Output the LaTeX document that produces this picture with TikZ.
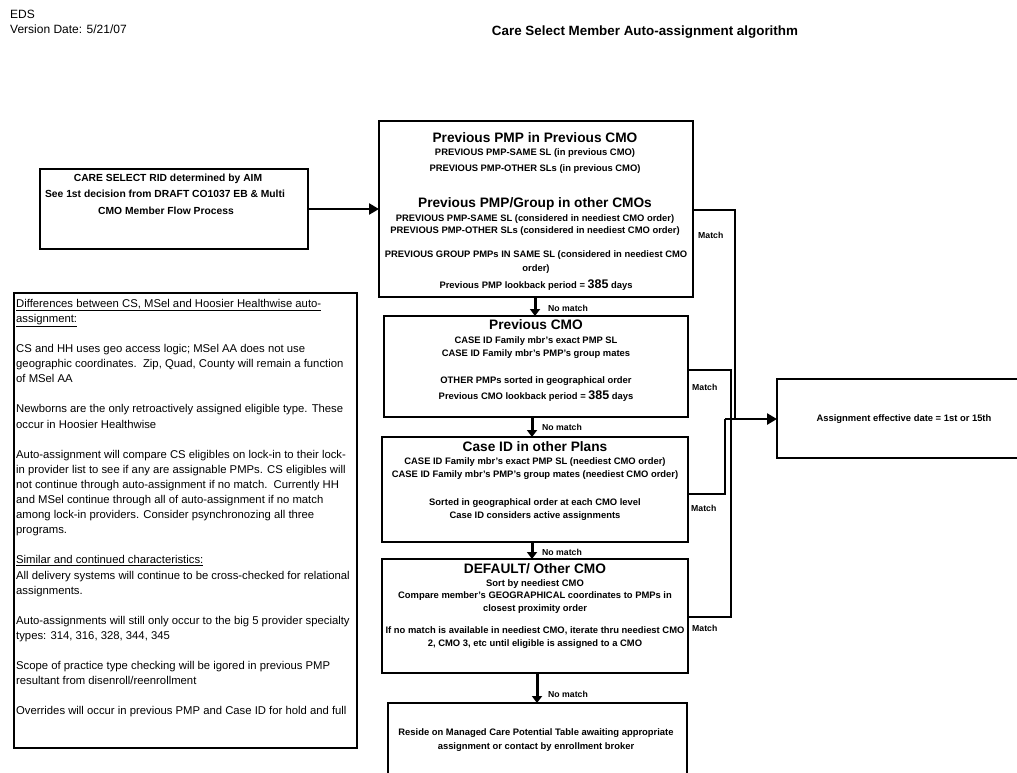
\documentclass[tikz,border=0pt]{standalone}
\usepackage{fontspec}
\setmainfont{Liberation Sans}
\usetikzlibrary{arrows.meta}
\newcommand\fhd{\fontsize{13.7}{15}\selectfont\bfseries}
\newcommand\fsb{\fontsize{9.4}{11}\selectfont\bfseries}
\newcommand\fcs{\fontsize{10.3}{12}\selectfont\bfseries}
\newcommand\flb{\fontsize{8.7}{10}\selectfont\bfseries}
\newcommand\flt{\fontsize{11.3}{15.1}\selectfont}
\newcommand\fbig{\fontsize{12.5}{14}\selectfont\bfseries}
\newcommand\fhdr{\fontsize{12}{14}\selectfont}
\newcommand\fttl{\fontsize{13.4}{15}\selectfont\bfseries}
\begin{document}
\begin{tikzpicture}[x=1pt,y=-1pt,
  box/.style={draw, line width=2.2pt, anchor=north west, inner sep=0pt, outer sep=0pt},
  txt/.style={inner sep=0pt, anchor=base},
  lbl/.style={inner sep=0pt, anchor=west, font=\flb},
  varr/.style={line width=3pt, -{Triangle[length=7pt,width=10pt]}},
  conn/.style={line width=2pt},
  harr/.style={line width=2.6pt, -{Triangle[length=10pt,width=11pt]}},
]
\fill[white] (0,0) rectangle (1017,772);
\clip (0,0) rectangle (1017,772);

% header
\node[txt, anchor=base west] (eds) at (10,18) {\fhdr EDS};
\node[txt, anchor=base west] (ver) at (10,33) {\fhdr Version Date: 5/21/07};
\node[txt] (title) at (645,35) {\fttl Care Select Member Auto-assignment algorithm};

% boxes
\node[box, minimum width=268pt, minimum height=80pt] (csbox) at (40,169) {};
\node[box, minimum width=314pt, minimum height=176pt] (topbox) at (379,121) {};
\node[box, minimum width=304pt, minimum height=101pt] (prevbox) at (384,316) {};
\node[box, minimum width=306pt, minimum height=105pt] (casebox) at (382,437) {};
\node[box, minimum width=306pt, minimum height=114pt] (defbox) at (382,559) {};
\node[box, minimum width=299pt, minimum height=90pt] (resbox) at (388,703) {};
\node[box, line width=2pt, minimum width=343pt, minimum height=455pt] (leftbox) at (14,293) {};
\node[box, line width=2pt, minimum width=260pt, minimum height=79pt] (assign) at (777,379) {};

% CARE SELECT text
\node[txt] (cs1) at (168,181) {\fcs CARE SELECT RID determined by AIM};
\node[txt] (cs2) at (165,197) {\fcs See 1st decision from DRAFT CO1037 EB \& Multi};
\node[txt] (cs3) at (166,214) {\fcs CMO Member Flow Process};

% top box text
\node[txt] (t1) at (535,142.5) {\fhd Previous PMP in Previous CMO};
\node[txt] (t2) at (535,155) {\fsb PREVIOUS PMP-SAME SL (in previous CMO)};
\node[txt] (t3) at (535,171) {\fsb PREVIOUS PMP-OTHER SLs (in previous CMO)};
\node[txt] (t4) at (535,207.5) {\fhd Previous PMP/Group in other CMOs};
\node[txt] (t5) at (535,221) {\fsb PREVIOUS PMP-SAME SL (considered in neediest CMO order)};
\node[txt] (t6) at (535,233) {\fsb PREVIOUS PMP-OTHER SLs (considered in neediest CMO order)};
\node[txt] (t7) at (536,257) {\fsb PREVIOUS GROUP PMPs IN SAME SL (considered in neediest CMO};
\node[txt] (t8) at (536,271) {\fsb order)};
\node[txt] (t9) at (536,288) {\fsb Previous PMP lookback period = {\fbig 385} days};

% previous CMO text
\node[txt] (p1) at (536,329.5) {\fhd Previous CMO};
\node[txt] (p2) at (536,343) {\fsb CASE ID Family mbr's exact PMP SL};
\node[txt] (p3) at (536,356) {\fsb CASE ID Family mbr's PMP's group mates};
\node[txt] (p4) at (536,383) {\fsb OTHER PMPs sorted in geographical order};
\node[txt] (p5) at (536,399) {\fsb Previous CMO lookback period = {\fbig 385} days};

% case ID text
\node[txt] (c1) at (535,451.5) {\fhd Case ID in other Plans};
\node[txt] (c2) at (535,464) {\fsb CASE ID Family mbr's exact PMP SL (neediest CMO order)};
\node[txt] (c3) at (535,477) {\fsb CASE ID Family mbr's PMP's group mates (neediest CMO order)};
\node[txt] (c4) at (535,505) {\fsb Sorted in geographical order at each CMO level};
\node[txt] (c5) at (535,518) {\fsb Case ID considers active assignments};

% default text
\node[txt] (d1) at (535,573.5) {\fhd DEFAULT/ Other CMO};
\node[txt] (d2) at (535,586) {\fsb Sort by neediest CMO};
\node[txt] (d3) at (535,598) {\fsb Compare member's GEOGRAPHICAL coordinates to PMPs in};
\node[txt] (d4) at (535,611) {\fsb closest proximity order};
\node[txt] (d5) at (535,633) {\fsb If no match is available in neediest CMO, iterate thru neediest CMO};
\node[txt] (d6) at (535,646) {\fsb 2, CMO 3, etc until eligible is assigned to a CMO};

% reside text
\node[txt] (r1) at (536,735) {\fsb Reside on Managed Care Potential Table awaiting appropriate};
\node[txt] (r2) at (536,749) {\fsb assignment or contact by enrollment broker};

% assignment text
\node[txt] (a1) at (904,421) {\fsb Assignment effective date = 1st or 15th};

% left box text
\node[inner sep=0pt, anchor=north west, align=left, font=\flt] (lefttext) at (16,298.8) {%
\underline{Differences between CS, MSel and Hoosier Healthwise auto-}\\
\underline{assignment:}\\[15.1pt]
CS and HH uses geo access logic; MSel AA does not use\\
geographic coordinates.\ \ Zip, Quad, County will remain a function\\
of MSel AA\\[15.1pt]
Newborns are the only retroactively assigned eligible type. These\\
occur in Hoosier Healthwise\\[15.1pt]
Auto-assignment will compare CS eligibles on lock-in to their lock-\\
in provider list to see if any are assignable PMPs. CS eligibles will\\
not continue through auto-assignment if no match.\ \ Currently HH\\
and MSel continue through all of auto-assignment if no match\\
among lock-in providers. Consider psynchronozing all three\\
programs.\\[15.1pt]
\underline{Similar and continued characteristics:}\\
All delivery systems will continue to be cross-checked for relational\\
assignments.\\[15.1pt]
Auto-assignments will still only occur to the big 5 provider specialty\\
types: 314, 316, 328, 344, 345\\[15.1pt]
Scope of practice type checking will be igored in previous PMP\\
resultant from disenroll/reenrollment\\[15.1pt]
Overrides will occur in previous PMP and Case ID for hold and full};

% arrow CARE SELECT -> top
\draw[harr] (csbox.east) -- (topbox.west |- csbox.east);

% vertical no-match arrows
\coordinate (x1) at (535,0);
\coordinate (x2) at (532,0);
\coordinate (x3) at (537,0);
\draw[varr] (topbox.south -| x1) -- (prevbox.north -| x1);
\draw[varr] (prevbox.south -| x2) -- (casebox.north -| x2);
\draw[varr] (casebox.south -| x2) -- (defbox.north -| x2);
\draw[varr] (defbox.south -| x3) -- (resbox.north -| x3);
\node[lbl] (nm1) at (548,308) {No match};
\node[lbl] (nm2) at (542,427) {No match};
\node[lbl] (nm3) at (542,552) {No match};
\node[lbl] (nm4) at (548,694) {No match};

% match connectors
\coordinate (ya) at (0,210);
\coordinate (yb) at (0,370);
\coordinate (yc) at (0,494);
\coordinate (yd) at (0,617);
\coordinate (ja) at (735,419);
\coordinate (jb) at (731,419);
\coordinate (jc) at (725,419);
\draw[conn] (topbox.east |- ya) -| (ja);
\draw[conn] (prevbox.east |- yb) -| (jb);
\draw[conn] (casebox.east |- yc) -| (jc);
\draw[conn] (defbox.east |- yd) -| (jb);
\draw[harr] (jc) -- (assign.west |- jc);
\node[lbl] (m1) at (698,235) {Match};
\node[lbl] (m2) at (692,387) {Match};
\node[lbl] (m3) at (691,508) {Match};
\node[lbl] (m4) at (692,628) {Match};
\end{tikzpicture}
\end{document}
